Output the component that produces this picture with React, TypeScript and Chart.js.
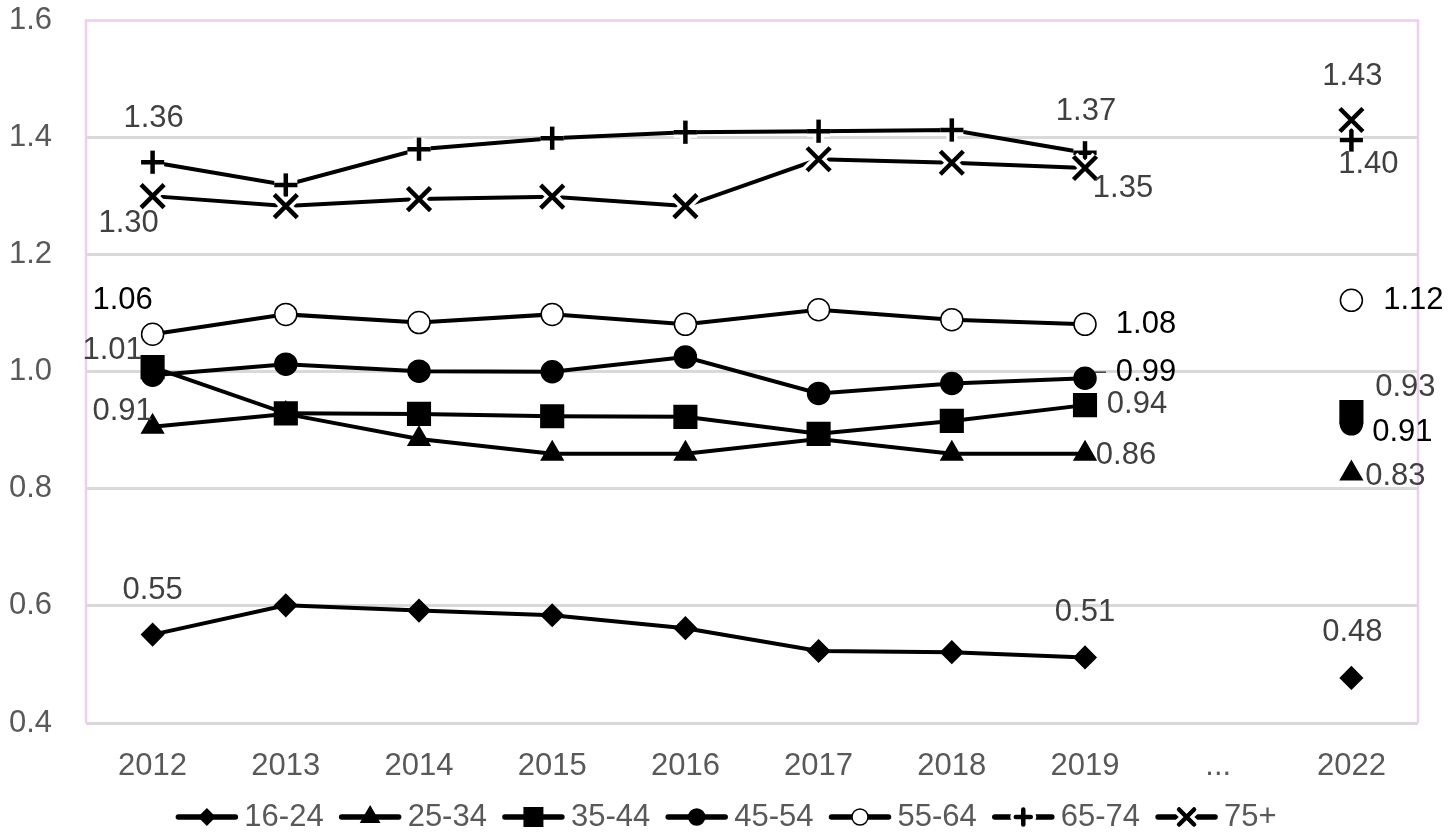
import { useEffect, useRef } from "react";
import { Chart, registerables } from "chart.js";

Chart.register(...registerables);

// x categories ("..." is an empty gap before 2022)
const categories = ["2012", "2013", "2014", "2015", "2016", "2017", "2018", "2019", "...", "2022"];
const seriesNames = ["16-24", "25-34", "35-44", "45-54", "55-64", "65-74", "75+"];

const age16to24 = [0.551, 0.601, 0.592, 0.584, 0.562, 0.523, 0.521, 0.512, null, 0.477];
const age25to34 = [0.906, 0.928, 0.885, 0.86, 0.86, 0.885, 0.86, 0.86, null, 0.826];
const age35to44 = [1.008, 0.929, 0.928, 0.924, 0.923, 0.894, 0.916, 0.943, null, 0.931];
const age45to54 = [0.994, 1.013, 1.001, 1.0, 1.025, 0.963, 0.98, 0.989, null, 0.911];
const age55to64 = [1.064, 1.098, 1.084, 1.098, 1.081, 1.106, 1.089, 1.081, null, 1.122];
const age65to74 = [1.358, 1.319, 1.38, 1.399, 1.409, 1.411, 1.413, 1.374, null, 1.396];
const age75plus = [1.3, 1.283, 1.295, 1.299, 1.283, 1.363, 1.357, 1.348, null, 1.43];

const yTicks = [0.4, 0.6, 0.8, 1.0, 1.2, 1.4, 1.6];

const allSeries = [age16to24, age25to34, age35to44, age45to54, age55to64, age65to74, age75plus];

const FONT = '"Liberation Sans", Arial, sans-serif';
const GRAY = "#595959";
const LABEL_GRAY = "#404040";

type Marker = "diamond" | "triangle" | "square" | "circle" | "open" | "plus" | "x";
const markers: Marker[] = ["diamond", "triangle", "square", "circle", "open", "plus", "x"];

// which points carry a value label, and where the text sits relative to the point
const labelSpecs = [
  { s: 0, i: 0, dx: 0, dy: -44, c: LABEL_GRAY },
  { s: 0, i: 7, dx: 0, dy: -45, c: LABEL_GRAY },
  { s: 0, i: 9, dx: 1, dy: -45, c: LABEL_GRAY },
  { s: 1, i: 0, dx: -30, dy: -15, c: LABEL_GRAY },
  { s: 1, i: 7, dx: 41, dy: 2, c: LABEL_GRAY },
  { s: 1, i: 9, dx: 44, dy: 3, c: LABEL_GRAY },
  { s: 2, i: 0, dx: -40, dy: -17, c: LABEL_GRAY },
  { s: 2, i: 7, dx: 52, dy: -1, c: LABEL_GRAY },
  { s: 2, i: 9, dx: 54, dy: -25, c: LABEL_GRAY },
  { s: 3, i: 7, dx: 61, dy: -6, c: "#000", leader: true },
  { s: 3, i: 9, dx: 51, dy: 9, c: "#000" },
  { s: 4, i: 0, dx: -30, dy: -34, c: "#000" },
  { s: 4, i: 7, dx: 61, dy: 0, c: "#000" },
  { s: 4, i: 9, dx: 62, dy: 0, c: "#000" },
  { s: 5, i: 0, dx: 1, dy: -44, c: LABEL_GRAY },
  { s: 5, i: 7, dx: 1, dy: -41, c: LABEL_GRAY },
  { s: 5, i: 9, dx: 17, dy: 25, c: LABEL_GRAY },
  { s: 6, i: 0, dx: -24, dy: 27, c: LABEL_GRAY },
  { s: 6, i: 7, dx: 38, dy: 20, c: LABEL_GRAY },
  { s: 6, i: 9, dx: 1, dy: -44, c: LABEL_GRAY },
];

function drawMarker(ctx: CanvasRenderingContext2D, kind: Marker, x: number, y: number, r: number) {
  ctx.save();
  ctx.fillStyle = "#000";
  ctx.strokeStyle = "#000";
  ctx.beginPath();
  if (kind === "diamond") {
    ctx.moveTo(x, y - r);
    ctx.lineTo(x + r, y);
    ctx.lineTo(x, y + r);
    ctx.lineTo(x - r, y);
    ctx.closePath();
    ctx.fill();
  } else if (kind === "triangle") {
    const h = r * Math.sin(Math.PI / 3);
    ctx.moveTo(x, y - r);
    ctx.lineTo(x + h, y + r / 2);
    ctx.lineTo(x - h, y + r / 2);
    ctx.closePath();
    ctx.fill();
  } else if (kind === "square") {
    ctx.rect(x - r, y - r, 2 * r, 2 * r);
    ctx.fill();
  } else if (kind === "circle" || kind === "open") {
    ctx.arc(x, y, r, 0, Math.PI * 2);
    ctx.fillStyle = kind === "open" ? "#fff" : "#000";
    ctx.fill();
    ctx.lineWidth = 1.5;
    ctx.stroke();
  } else {
    const lines = (w: number, color: string) => {
      ctx.beginPath();
      ctx.lineWidth = w;
      ctx.strokeStyle = color;
      if (kind === "plus") {
        ctx.moveTo(x - r, y);
        ctx.lineTo(x + r, y);
        ctx.moveTo(x, y - r);
        ctx.lineTo(x, y + r);
      } else {
        ctx.moveTo(x - r, y - r);
        ctx.lineTo(x + r, y + r);
        ctx.moveTo(x + r, y - r);
        ctx.lineTo(x - r, y + r);
      }
      ctx.stroke();
    };
    lines(11, "#fff");
    lines(4.5, "#000");
  }
  ctx.restore();
}

const decorPlugin = {
  id: "decor",
  beforeDatasetsDraw(chart: Chart) {
    const { ctx, chartArea } = chart;
    ctx.save();
    ctx.strokeStyle = "#EECDEE";
    ctx.lineWidth = 2.5;
    ctx.beginPath();
    ctx.moveTo(chartArea.left, chartArea.bottom);
    ctx.lineTo(chartArea.left, chartArea.top);
    ctx.lineTo(chartArea.right, chartArea.top);
    ctx.lineTo(chartArea.right, chartArea.bottom);
    ctx.stroke();
    ctx.restore();
  },
  afterDatasetsDraw(chart: Chart) {
    const { ctx } = chart;
    // redraw crosses with a white halo over the lines
    [5, 6].forEach((s) => {
      const meta = chart.getDatasetMeta(s);
      meta.data.forEach((pt: any, i: number) => {
        if (allSeries[s][i] == null) return;
        drawMarker(ctx, markers[s], pt.x, pt.y, 11.5);
      });
    });

    ctx.save();
    ctx.font = `31px ${FONT}`;
    ctx.textAlign = "center";
    ctx.textBaseline = "middle";
    labelSpecs.forEach((l) => {
      const v = allSeries[l.s][l.i];
      if (v == null) return;
      const pt: any = chart.getDatasetMeta(l.s).data[l.i];
      ctx.fillStyle = l.c;
      ctx.fillText(v.toFixed(2), pt.x + l.dx, pt.y + l.dy);
      if ((l as any).leader) {
        ctx.strokeStyle = "#404040";
        ctx.lineWidth = 1.5;
        ctx.beginPath();
        ctx.moveTo(pt.x + 10, pt.y + l.dy);
        ctx.lineTo(pt.x + 21, pt.y + l.dy);
        ctx.stroke();
      }
    });
    ctx.restore();
  },
  afterDraw(chart: Chart) {
    // legend: line segment with marker, then the series name
    const { ctx, width } = chart;
    ctx.save();
    ctx.font = `31px ${FONT}`;
    const lineLen = 63;
    const gap = 6;
    const itemGap = 15;
    const widths = seriesNames.map((n) => ctx.measureText(n).width);
    const total =
      widths.reduce((a, b) => a + b, 0) + seriesNames.length * (lineLen + gap) + (seriesNames.length - 1) * itemGap;
    let x = width / 2 - total / 2;
    const y = 817;
    const legendSize: Record<Marker, number> = {
      diamond: 9,
      triangle: 12,
      square: 10,
      circle: 8,
      open: 8,
      plus: 7.5,
      x: 7.5,
    };
    seriesNames.forEach((name, k) => {
      ctx.strokeStyle = "#000";
      ctx.lineWidth = 5.5;
      ctx.lineCap = "round";
      ctx.beginPath();
      ctx.moveTo(x + 3, y);
      ctx.lineTo(x + lineLen - 3, y);
      ctx.stroke();
      drawMarker(ctx, markers[k], x + lineLen / 2, y, legendSize[markers[k]]);
      ctx.fillStyle = GRAY;
      ctx.textAlign = "left";
      ctx.textBaseline = "middle";
      ctx.fillText(name, x + lineLen + gap, y);
      x += lineLen + gap + widths[k] + itemGap;
    });
    ctx.restore();
  },
};

const pointStyles = ["rectRot", "triangle", "rect", "circle", "circle", "cross", "crossRot"];
const pointRadii = [11, 12.5, 16, 11, 11, 11.5, 16];

const App = () => {
  const chartRef = useRef<Chart | null>(null);
  const canvasRef = useRef<HTMLCanvasElement | null>(null);

  useEffect(() => {
    if (!canvasRef.current) return;
    document.body.style.margin = "0";
    Chart.defaults.font.family = FONT;

    if (chartRef.current) chartRef.current.destroy();

    chartRef.current = new Chart(canvasRef.current, {
      type: "line",
      data: {
        labels: categories,
        datasets: seriesNames.map((name, k) => ({
          label: name,
          data: allSeries[k],
          borderColor: "#000",
          borderWidth: 4,
          pointStyle: pointStyles[k] as any,
          pointRadius: pointRadii[k],
          pointBackgroundColor: k === 4 ? "#fff" : "#000",
          pointBorderColor: "#000",
          pointBorderWidth: k >= 5 ? 4.5 : 1.5,
          spanGaps: false,
          tension: 0,
        })),
      },
      options: {
        responsive: false,
        animation: false,
        layout: { padding: { top: 18, right: 34, left: 0, bottom: 0 } },
        plugins: {
          legend: { display: false },
          tooltip: { enabled: false },
        },
        scales: {
          x: {
            offset: true,
            grid: { display: false, drawTicks: false },
            border: { display: false },
            ticks: { color: GRAY, font: { size: 31 }, padding: 25, maxRotation: 0, autoSkip: false },
            afterFit: (s: any) => {
              s.height = 115;
              s.paddingLeft = 0;
              s.paddingRight = 0;
            },
          },
          y: {
            min: yTicks[0],
            max: yTicks[yTicks.length - 1],
            afterBuildTicks: (s: any) => {
              s.ticks = yTicks.map((v) => ({ value: v }));
            },
            ticks: {
              color: GRAY,
              font: { size: 31 },
              padding: 34,
              callback: (v: any) => Number(v).toFixed(1),
            },
            grid: {
              color: (c: any) => (c.tick && c.tick.value > 1.59 ? "rgba(0,0,0,0)" : "#d9d9d9"),
              lineWidth: 3,
              drawTicks: false,
            },
            border: { display: false },
            afterFit: (s: any) => {
              s.width = 86;
              s.paddingTop = 0;
              s.paddingBottom = 0;
            },
          },
        },
      },
      plugins: [decorPlugin],
    });

    return () => {
      chartRef.current?.destroy();
      chartRef.current = null;
    };
  }, []);

  return <canvas ref={canvasRef} width="1452" height="838" style={{ display: "block" }}></canvas>;
};

export default App;
